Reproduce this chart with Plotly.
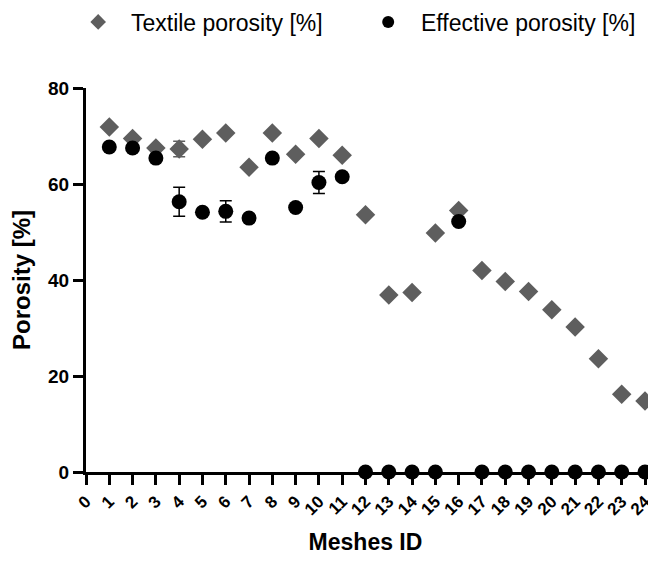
import plotly.graph_objects as go

mesh_ids = list(range(1, 25))
textile = [71.9, 69.5, 67.5, 67.3, 69.3, 70.6, 63.5, 70.6, 66.2, 69.5, 66.0, 53.6,
           36.9, 37.4, 49.8, 54.5, 42.0, 39.7, 37.6, 33.8, 30.2, 23.6, 16.2, 14.8]
textile_err = [0, 0, 0, 1.6, 0, 0, 0, 0, 0, 0, 0, 0,
               0, 0, 0, 0, 0, 0, 0, 0, 0, 0, 0, 0]
effective = [67.7, 67.5, 65.4, 56.3, 54.1, 54.3, 52.9, 65.4, 55.1, 60.3, 61.5, 0,
             0, 0, 0, 52.2, 0, 0, 0, 0, 0, 0, 0, 0]
effective_err = [0, 0, 0, 3.0, 0, 2.2, 0, 0, 0, 2.3, 0, 0,
                 0, 0, 0, 0, 0, 0, 0, 0, 0, 0, 0, 0]
tick_vals = list(range(0, 25))

FONT = "Liberation Sans, Arial, sans-serif"

fig = go.Figure()
fig.add_trace(go.Scatter(
    x=mesh_ids, y=textile, mode="markers", name="\u00a0\u00a0Textile porosity [%]",
    marker=dict(symbol="diamond", size=15, color="#5e5e5e"),
    error_y=dict(type="data", array=textile_err, color="#5e5e5e", thickness=1.5, width=6),
    cliponaxis=False,
))
fig.add_trace(go.Scatter(
    x=mesh_ids, y=effective, mode="markers", name="\u00a0\u00a0Effective porosity [%]",
    marker=dict(symbol="circle", size=15, color="#000000"),
    error_y=dict(type="data", array=effective_err, color="#000000", thickness=1.5, width=6),
    cliponaxis=False,
))

fig.update_layout(
    width=656, height=562,
    paper_bgcolor="white", plot_bgcolor="white",
    margin=dict(l=78, r=19, t=80, b=98, autoexpand=False),
    font=dict(family=FONT, color="#000000"),
    showlegend=True,
    legend=dict(orientation="h", x=-0.014, xanchor="left", y=1.172, yanchor="middle",
                font=dict(size=23, family=FONT), entrywidth=245, entrywidthmode="pixels",
                itemsizing="constant"),
    xaxis=dict(
        range=[0, 24], tickmode="array", tickvals=tick_vals,
        ticktext=[str(v) for v in tick_vals], tickangle=-45,
        showline=True, linecolor="black", linewidth=3,
        ticks="outside", ticklen=10, tickwidth=3, tickcolor="black",
        showgrid=False, zeroline=False, automargin=False,
        tickfont=dict(size=17, family=FONT, weight="bold"),
        title=dict(text="Meshes ID", font=dict(size=23, family=FONT, weight="bold"), standoff=16),
    ),
    yaxis=dict(
        range=[0, 80], tickvals=[0, 20, 40, 60, 80],
        showline=True, linecolor="black", linewidth=3,
        ticks="outside", ticklen=10, tickwidth=3, tickcolor="black",
        showgrid=False, zeroline=False, automargin=False,
        tickfont=dict(size=19, family=FONT, weight="bold"),
        title=dict(text="Porosity [%]", font=dict(size=24, family=FONT, weight="bold"), standoff=12),
    ),
)

fig.write_html("out.html")
